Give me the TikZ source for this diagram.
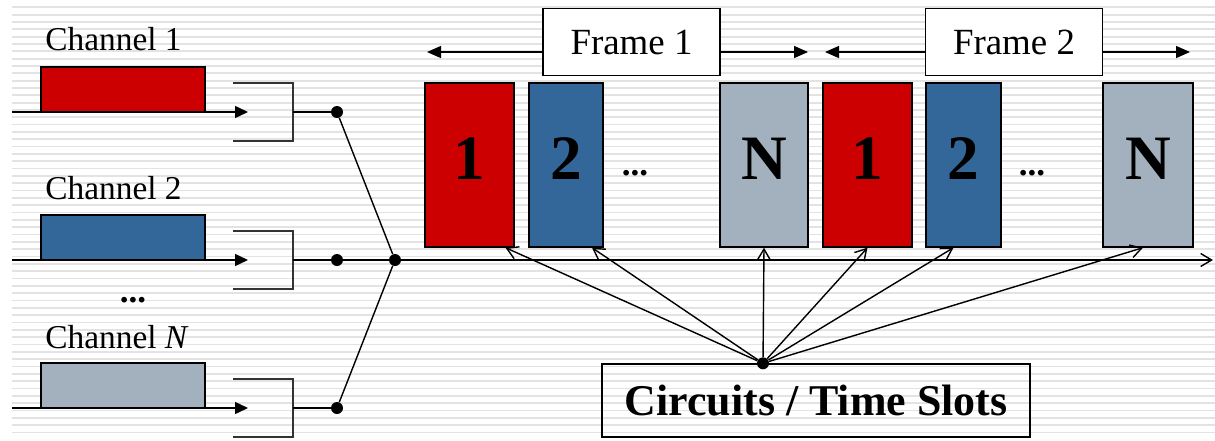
\documentclass[tikz,border=0pt]{standalone}
\usepackage{fontspec}
\setmainfont{Liberation Serif}
\usetikzlibrary{arrows.meta, positioning, calc}
\definecolor{chred}{HTML}{CC0000}
\definecolor{chblue}{HTML}{336699}
\definecolor{chgray}{HTML}{A3B1BF}
\tikzset{
  % --- Kanaele (links) --------------------------------------
  chbox/.style={draw, thick, minimum width=3.28cm, minimum height=0.9cm,
    inner sep=0pt},
  chlbl/.style={font=\fontsize{19}{22}\selectfont, inner sep=0pt,
    anchor=base west},
  sig/.style={-{Triangle[length=0.26cm, width=0.24cm]}, thick},
  brk/.style={thick, black!80},
  dot/.style={circle, fill=black, inner sep=0pt, minimum size=0.24cm},
  more/.style={font=\fontsize{20}{24}\selectfont\bfseries, inner sep=0pt,
    anchor=base},
  % --- Rahmen / Zeitschlitze --------------------------------
  slot/.style={draw, thick, minimum height=3.28cm, inner sep=0pt,
    text depth=0.26cm, font=\fontsize{36}{40}\selectfont\bfseries},
  frm/.style={draw, thick, fill=white, minimum width=3.54cm,
    minimum height=1.34cm, font=\fontsize{21}{25}\selectfont},
  frmarr/.style={-{Triangle[length=0.28cm, width=0.24cm]}, thick},
  ptr/.style={-{Straight Barb[length=0.22cm, width=0.26cm]}, thick},
  stripe/.style={black!11, line width=1pt}
}
\begin{document}
\begin{tikzpicture}[x=0.02cm, y=-0.02cm]
  \useasboundingbox (0,0) rectangle (1215,440);

  % --- Hintergrund: Streifen ---
  \foreach \k in {1,...,59}
    \draw[stripe] (12,{7.33*\k}) -- (1215,{7.33*\k});

  % --- Kanaele ---
  \node[chbox, fill=chred]  (ch1) at (123,89.5)  {};
  \node[chbox, fill=chblue] (ch2) at (123,237.5) {};
  \node[chbox, fill=chgray] (chN) at (123,385.5) {};
  \node[chlbl] (lbl1) at (45,50)  {Channel 1};
  \node[chlbl] (lbl2) at (45,199) {Channel 2};
  \node[chlbl] (lblN) at (45,348) {Channel \textit{N}};
  \node[more] (vmore) at (133,302) {...};

  \foreach \c/\y in {1/112, 2/260, N/408} {
    \coordinate (in\c)  at (12,\y);
    \coordinate (tip\c) at (248,\y);
    \coordinate (out\c) at (293,\y);
    \draw[sig] (in\c) -- (tip\c);
    \draw[brk] (233,{\y-29}) -- (293,{\y-29}) -- (293,{\y+29}) -- (233,{\y+29});
    \node[dot] (d\c) at (337,\y) {};
    \draw[thick] (out\c) -- (d\c);
  }

  % --- Multiplexer und Zeitachse ---
  \node[dot] (mux) at (395,260) {};
  \draw[thick] (d1) -- (mux);
  \draw[thick] (dN) -- (mux);
  \draw[thick] (d2) -- (mux);
  \coordinate (tend) at (1213,260);
  \draw[ptr] (mux) -- (tend);

  % --- Rahmen 1 ---
  \node[slot, fill=chred,  minimum width=1.78cm] (s1a) at (469.5,165) {1};
  \node[slot, fill=chblue, minimum width=1.48cm] (s2a) at (566,165)   {2};
  \node[more] (amore) at (635,175) {...};
  \node[slot, fill=chgray, minimum width=1.76cm] (sNa) at (764,165)   {N};
  \node[frm] (f1) at (631.5,42) {Frame 1};
  \coordinate (f1l) at (427,52);
  \coordinate (f1r) at (808,52);
  \draw[frmarr] (f1.west |- f1l) -- (f1l);
  \draw[frmarr] (f1.east |- f1r) -- (f1r);

  % --- Rahmen 2 ---
  \node[slot, fill=chred,  minimum width=1.78cm] (s1b) at (867.5,165) {1};
  \node[slot, fill=chblue, minimum width=1.50cm] (s2b) at (963.5,165) {2};
  \node[more] (bmore) at (1032,175) {...};
  \node[slot, fill=chgray, minimum width=1.80cm] (sNb) at (1148,165)  {N};
  \node[frm] (f2) at (1014,42) {Frame 2};
  \coordinate (f2l) at (825,52);
  \coordinate (f2r) at (1190,52);
  \draw[frmarr] (f2.west |- f2l) -- (f2l);
  \draw[frmarr] (f2.east |- f2r) -- (f2r);

  % --- Circuits / Time Slots ---
  \node[draw, thick, minimum width=8.56cm, minimum height=1.46cm,
    font=\fontsize{25}{30}\selectfont\bfseries] (cts) at (816,400.5)
    {Circuits / Time Slots};
  \node[dot] (hub) at ([xshift=-1.06cm]cts.north) {};
  \foreach \s/\dx in {s1a/0.72cm, s2a/0.52cm, sNa/0cm, s1b/0cm, s2b/-0.2cm, sNb/-0.1cm}
    \draw[ptr] (hub) -- ([xshift=\dx]\s.south);

\end{tikzpicture}
\end{document}
